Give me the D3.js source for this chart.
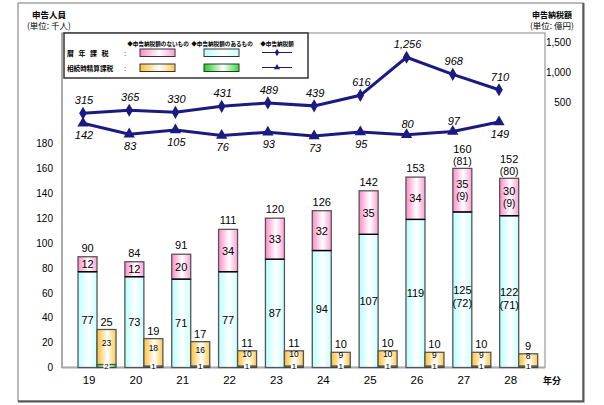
<!DOCTYPE html>
<html><head><meta charset="utf-8">
<script src="https://cdn.jsdelivr.net/npm/d3@7"></script>
<style>
body{margin:0;background:#fff;}
svg{display:block;}
text{font-family:"Liberation Sans",Arial,sans-serif;}
.jp{font-family:"Noto Sans CJK JP","Noto Sans",sans-serif;}
</style></head>
<body>
<svg id="c" width="604" height="405"></svg>
<script>
// ---- data ----
const years = ["19","20","21","22","23","24","25","26","27","28"];
// 暦年課税
const rekiAri   = [77,73,71,77,87,94,107,119,125,122];   // 申告納税額のあるもの
const rekiNashi = [12,12,20,34,33,32,35,34,35,30];       // 申告納税額のないもの
const rekiTotal = [90,84,91,111,120,126,142,153,160,152];
const rekiAriSub   = [null,null,null,null,null,null,null,null,"(72)","(71)"];
const rekiNashiSub = [null,null,null,null,null,null,null,null,"(9)","(9)"];
const rekiTotalSub = [null,null,null,null,null,null,null,null,"(81)","(80)"];
// 相続時精算課税
const seisanAri   = [2,1,1,1,1,1,1,1,1,1];
const seisanNashi = [23,18,16,10,10,9,10,9,9,8];
const seisanTotal = [25,19,17,11,11,10,10,10,10,9];
// 申告納税額 (億円)
const rekiTax   = [315,365,330,431,489,439,616,1256,968,710];
const seisanTax = [142,83,105,76,93,73,95,80,97,149];
const seisanTaxLabelAbove = [false,false,false,false,false,false,false,true,true,false];
const leftTicks  = [0,20,40,60,80,100,120,140,160,180];
const rightTicks = [500,1000,1500];

const svg = d3.select("#c");
const defs = svg.append("defs");
function grad(id, c1, c2){
  const g = defs.append("linearGradient").attr("id",id).attr("x1","0").attr("x2","1").attr("y1","0").attr("y2","0");
  g.append("stop").attr("offset","0%").attr("stop-color",c1);
  g.append("stop").attr("offset","55%").attr("stop-color","#ffffff");
  g.append("stop").attr("offset","100%").attr("stop-color",c2);
}
grad("gPink","#ff8cc8","#ff9fd2");
grad("gCyan","#b8ffff","#c8ffff");
grad("gOrange","#ffbf33","#ffc94d");
grad("gGreen","#22cc22","#33dd33");

// outer frame
svg.append("rect").attr("x",18).attr("y",3).attr("width",565).attr("height",398)
  .attr("fill","none").attr("stroke","#777").attr("stroke-width",1);
svg.append("path").attr("d","M583.5,3 V401.5 H18").attr("fill","none").attr("stroke","#555").attr("stroke-width",2);

// scales
const xBand = d3.scaleBand().domain(years).range([65.6,534.1]);
const xCenter = d => xBand(d) + xBand.bandwidth()/2;
const xPt = d3.scalePoint().domain(years).range([83,499]);
const yL = d3.scaleLinear().domain([0,180]).range([367.5,143.5]);
const yO = d3.scaleLinear().domain([0,100]).range([367.5,215.5]);
const yR = d3.scaleLinear().domain([0,1500]).range([132,42.7]);
const yT = d3.scaleLinear().domain([0,150]).range([149.4,121.8]);

// plot area frame
svg.append("rect").attr("x",62).attr("y",33).attr("width",483).attr("height",334.5)
  .attr("fill","none").attr("stroke","#999").attr("stroke-width",1.2);
svg.append("line").attr("x1",62).attr("x2",62).attr("y1",33).attr("y2",368).attr("stroke","#aaa").attr("stroke-width",2);
svg.append("line").attr("x1",62).attr("x2",545).attr("y1",367.5).attr("y2",367.5).attr("stroke","#aaa").attr("stroke-width",2);

// left axis
const axL = svg.append("g").attr("transform","translate(53,0)")
  .call(d3.axisLeft(yL).tickValues(leftTicks).tickSize(0).tickPadding(0));
axL.select(".domain").remove();
axL.selectAll("text").attr("font-size",10).attr("fill","#000").attr("text-anchor","end");
// right axis
const axR = svg.append("g").attr("transform","translate(571,0)")
  .call(d3.axisRight(yR).tickValues(rightTicks).tickSize(0).tickPadding(0).tickFormat(d3.format(",")));
axR.select(".domain").remove();
axR.selectAll("text").attr("font-size",10).attr("fill","#000").attr("text-anchor","end");

// x axis labels
const axX = svg.append("g").attr("transform","translate(0,374)")
  .call(d3.axisBottom(xBand).tickSize(0).tickPadding(0));
axX.select(".domain").remove();
axX.selectAll("text").attr("font-size",11.5).attr("fill","#000").attr("dy","0.9em");
svg.append("text").attr("class","jp").attr("x",552).attr("y",384).attr("text-anchor","middle")
  .attr("font-size",9).attr("font-weight","bold").text("年分");

// titles
svg.append("text").attr("class","jp").attr("x",49).attr("y",18).attr("text-anchor","middle").attr("font-size",8.5).attr("font-weight","bold").text("申告人員");
svg.append("text").attr("class","jp").attr("x",49).attr("y",28.5).attr("text-anchor","middle").attr("font-size",8.5).text("(単位: 千人)");
svg.append("text").attr("class","jp").attr("x",552).attr("y",18).attr("text-anchor","middle").attr("font-size",8).attr("font-weight","bold").text("申告納税額");
svg.append("text").attr("class","jp").attr("x",552).attr("y",28.5).attr("text-anchor","middle").attr("font-size",8.5).text("(単位: 億円)");

// bars
const bw = 19;
const gB = svg.append("g");
years.forEach((y,i)=>{
  const cx = xCenter(y);
  const x1 = cx-11, x2 = cx+8;
  gB.append("rect").attr("x",x1).attr("y",yL(rekiAri[i])).attr("width",bw).attr("height",yL(0)-yL(rekiAri[i]))
    .attr("fill","url(#gCyan)").attr("stroke","#555").attr("stroke-width",1.3);
  const top = rekiAri[i]+rekiNashi[i];
  gB.append("rect").attr("x",x1).attr("y",yL(top)).attr("width",bw).attr("height",yL(rekiAri[i])-yL(top))
    .attr("fill","url(#gPink)").attr("stroke","#555").attr("stroke-width",1.3);
  gB.append("line").attr("x1",x1).attr("x2",x1+bw).attr("y1",yL(rekiAri[i])).attr("y2",yL(rekiAri[i])).attr("stroke","#000").attr("stroke-width",1.3);
  gB.append("rect").attr("x",x2).attr("y",yO(seisanAri[i])).attr("width",bw).attr("height",yO(0)-yO(seisanAri[i]))
    .attr("fill","url(#gGreen)").attr("stroke","#444").attr("stroke-width",1.2);
  const ot = seisanAri[i]+seisanNashi[i];
  gB.append("rect").attr("x",x2).attr("y",yO(ot)).attr("width",bw).attr("height",yO(seisanAri[i])-yO(ot))
    .attr("fill","url(#gOrange)").attr("stroke","#555").attr("stroke-width",1.3);

  const midC = (yL(0)+yL(rekiAri[i]))/2;
  const midP = (yL(rekiAri[i])+yL(top))/2;
  const cxc = x1+bw/2;
  gB.append("text").attr("x",cxc).attr("y",midC+4).attr("text-anchor","middle").attr("font-size",11).text(rekiAri[i]);
  if(rekiAriSub[i]){
    gB.append("text").attr("x",cxc).attr("y",midC+17).attr("text-anchor","middle").attr("font-size",11).text(rekiAriSub[i]);
  }
  if(rekiNashiSub[i]){
    gB.append("text").attr("x",cxc).attr("y",midP-2).attr("text-anchor","middle").attr("font-size",11).text(rekiNashi[i]);
    gB.append("text").attr("x",cxc).attr("y",midP+10).attr("text-anchor","middle").attr("font-size",10).text(rekiNashiSub[i]);
  } else {
    gB.append("text").attr("x",cxc).attr("y",midP+4).attr("text-anchor","middle").attr("font-size",11).text(rekiNashi[i]);
  }
  if(rekiTotalSub[i]){
    gB.append("text").attr("x",cxc).attr("y",yL(top)-15).attr("text-anchor","middle").attr("font-size",11).text(rekiTotal[i]);
    gB.append("text").attr("x",cxc).attr("y",yL(top)-3).attr("text-anchor","middle").attr("font-size",10.5).text(rekiTotalSub[i]);
  } else {
    gB.append("text").attr("x",cxc).attr("y",yL(top)-5).attr("text-anchor","middle").attr("font-size",11).text(rekiTotal[i]);
  }
  const cxo = x2+bw/2;
  gB.append("text").attr("x",cxo).attr("y",yO(ot)-4).attr("text-anchor","middle").attr("font-size",11).text(seisanTotal[i]);
  const midO = (yO(ot)+yO(seisanAri[i]))/2;
  gB.append("text").attr("x",cxo).attr("y",midO-1).attr("text-anchor","middle").attr("font-size",8.5).text(seisanNashi[i]);
  gB.append("rect").attr("x",cxo-3).attr("y",yO(0)-5).attr("width",6).attr("height",6).attr("fill","#fff");
  gB.append("text").attr("x",cxo).attr("y",yO(0)+1.5).attr("text-anchor","middle").attr("font-size",8).text(seisanAri[i]);
});

// lines
const navy = "#1a1a80";
const lineR = d3.line().x((d,i)=>xPt(years[i])).y(d=>yR(d));
const lineT = d3.line().x((d,i)=>xPt(years[i])).y(d=>yT(d));
svg.append("path").attr("d",lineR(rekiTax)).attr("fill","none").attr("stroke",navy).attr("stroke-width",3);
svg.append("path").attr("d",lineT(seisanTax)).attr("fill","none").attr("stroke",navy).attr("stroke-width",3);
const dia = d3.symbol().type(d3.symbolDiamond).size(50);
const tri = d3.symbol().type(d3.symbolTriangle).size(55);
rekiTax.forEach((v,i)=>{
  const x = xPt(years[i]), y = yR(v);
  svg.append("path").attr("d",dia()).attr("transform",`translate(${x},${y})`).attr("fill",navy);
  svg.append("text").attr("x",x+1).attr("y",y-9).attr("text-anchor","middle").attr("font-size",11)
    .attr("font-style","italic").text(d3.format(",")(v));
});
seisanTax.forEach((v,i)=>{
  const x = xPt(years[i]), y = yT(v);
  svg.append("path").attr("d",tri()).attr("transform",`translate(${x},${y})`).attr("fill",navy);
  svg.append("text").attr("x",x+1).attr("y",seisanTaxLabelAbove[i]? y-7 : y+16).attr("text-anchor","middle").attr("font-size",11)
    .attr("font-style","italic").text(v);
});

// legend
const lg = svg.append("g");
lg.append("rect").attr("x",64).attr("y",33).attr("width",244).attr("height",45).attr("fill","#fff")
  .attr("stroke","#333").attr("stroke-width",1.5);
const hdrs = [["申告納税額のないもの",158],["申告納税額のあるもの",222],["申告納税額",277]];
hdrs.forEach(h=>lg.append("text").attr("class","jp").attr("x",h[1]).attr("y",46).attr("text-anchor","middle")
  .attr("font-size",5.6).attr("font-weight","bold").text("◆"+h[0]));
lg.append("text").attr("class","jp").attr("x",67).attr("y",56).attr("font-size",7).attr("font-weight","bold")
  .attr("letter-spacing","4.5").text("暦年課税");
lg.append("text").attr("class","jp").attr("x",67).attr("y",71).attr("font-size",6.6).attr("font-weight","bold").text("相続時精算課税");
lg.append("text").attr("x",124).attr("y",56).attr("font-size",8).text(":");
lg.append("text").attr("x",124).attr("y",71).attr("font-size",8).text(":");
[["gPink",140,49],["gCyan",204,49],["gOrange",140,64],["gGreen",204,64]].forEach(b=>{
  lg.append("rect").attr("x",b[1]).attr("y",b[2]).attr("width",35).attr("height",7.5)
    .attr("fill",`url(#${b[0]})`).attr("stroke","#333").attr("stroke-width",1);
});
lg.append("line").attr("x1",262).attr("x2",292).attr("y1",52.5).attr("y2",52.5).attr("stroke",navy).attr("stroke-width",1);
lg.append("path").attr("d",d3.symbol().type(d3.symbolDiamond).size(16)()).attr("transform","translate(277,52.5)").attr("fill",navy);
lg.append("line").attr("x1",262).attr("x2",292).attr("y1",67.5).attr("y2",67.5).attr("stroke",navy).attr("stroke-width",1);
lg.append("path").attr("d",d3.symbol().type(d3.symbolTriangle).size(16)()).attr("transform","translate(277,67.5)").attr("fill",navy);
</script>
</body></html>
